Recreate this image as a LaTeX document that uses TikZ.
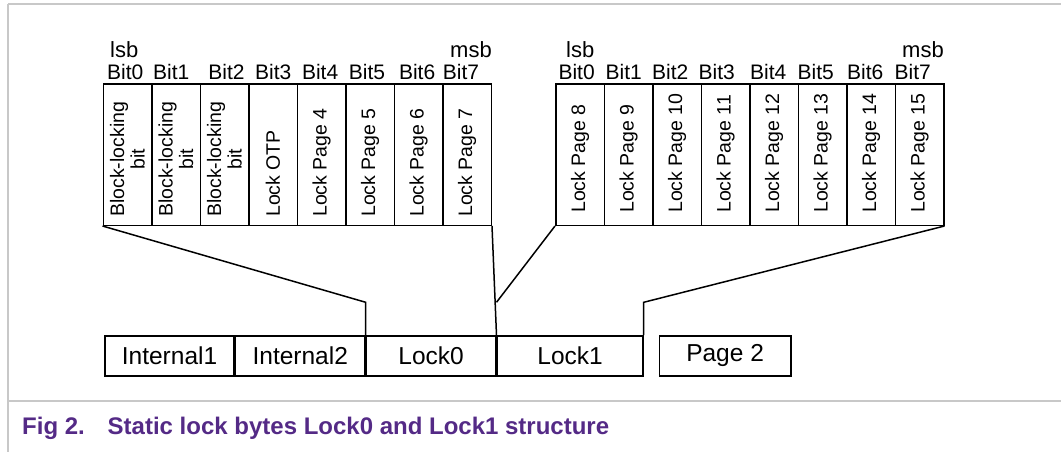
\documentclass[tikz,border=0pt]{standalone}
\usepackage{fontspec}
\setmainfont{Liberation Sans}
\usetikzlibrary{calc}
\definecolor{framegray}{RGB}{200,200,200}
\definecolor{capcol}{RGB}{84,42,134}
\begin{document}
\begin{tikzpicture}[x=1pt,y=1pt,
  cell/.style={draw=black,line width=1.5pt,minimum width=48.5pt,minimum height=141pt,inner sep=0pt,anchor=south west},
  celltext/.style={rotate=90,anchor=west,inner sep=0pt,align=center,font=\fontsize{19.5}{20.5}\selectfont},
  bitlab/.style={anchor=base west,inner sep=0pt,font=\fontsize{21}{23}\selectfont},
  sblab/.style={inner sep=0pt,font=\fontsize{22}{24}\selectfont},
  bytebox/.style={draw=black,line width=1.5pt,minimum height=40pt,inner sep=0pt,anchor=south west,font=\fontsize{24.5}{26}\selectfont},
  conn/.style={line width=1.5pt,line join=miter},
  frame/.style={draw=framegray,line width=1.4pt}]
\useasboundingbox (0,0) rectangle (1061,-452);
% frame
\draw[frame] (8,-4) -- (1061,-4);
\draw[frame] (8,-4) -- (8,-452);
\draw[frame] (8,-401) -- (1061,-401);
% left byte (Lock0)
\foreach \i/\t in {0/{Block-locking\\bit},1/{Block-locking\\bit},2/{Block-locking\\bit},3/{Lock OTP},4/{Lock Page 4},5/{Lock Page 5},6/{Lock Page 6},7/{Lock Page 7}}{
  \node[cell] (L\i) at (102.5+48.5*\i,-226) {};
  \node[celltext] (LT\i) at (L\i.center |- 0,-217) {\t};
}
% right byte (Lock1)
\foreach \i/\t in {0/{Lock Page 8},1/{Lock Page 9},2/{Lock Page 10},3/{Lock Page 11},4/{Lock Page 12},5/{Lock Page 13},6/{Lock Page 14},7/{Lock Page 15}}{
  \node[cell] (R\i) at (555+48.5*\i,-226) {};
  \node[celltext] (RT\i) at (R\i.center |- 0,-213) {\t};
}
% bit labels
\foreach \i/\dx in {0/4.5,1/2,2/8.7,3/7,4/5.3,5/3.7,6/5.3,7/0.7}{
  \node[bitlab] (LB\i) at ($(L\i.north west)+(\dx,4)$) {Bit\i};
}
\foreach \i/\dx in {0/3.3,1/2,2/0,3/-2,4/1,5/0,6/1,7/0}{
  \node[bitlab] (RB\i) at ($(R\i.north west)+(\dx,4)$) {Bit\i};
}
\node[sblab,anchor=base west] (Llsb) at (110,-58) {lsb};
\node[sblab,anchor=base east] (Lmsb) at (492,-58) {msb};
\node[sblab,anchor=base west] (Rlsb) at (566,-58) {lsb};
\node[sblab,anchor=base east] (Rmsb) at (944,-58) {msb};
% bottom row
\node[bytebox,minimum width=129pt] (int1) at (104.3,-376.7) {Internal1};
\node[bytebox,minimum width=129.4pt] (int2) at (int1.south east) {Internal2};
\node[bytebox,minimum width=129.3pt] (lock0) at (int2.south east) {Lock0};
\node[bytebox,minimum width=145.7pt] (lock1) at (lock0.south east) {Lock1};
\node[bytebox,minimum width=131.3pt] (page2) at (658.7,-376.7) {Page 2};
% connectors
\draw[conn] (L0.south west) -- (lock0.north west |- 0,-302.3) -- (lock0.north west);
\draw[conn] (L7.south east) -- (lock0.north east);
\draw[conn] (R0.south west) -- (lock1.north west |- 0,-302.3);
\draw[conn] (R7.south east) -- (lock1.north east |- 0,-302.3) -- (lock1.north east);
% caption
\node[anchor=base west,inner sep=0pt,text=capcol,font=\bfseries\fontsize{24}{26}\selectfont] (cap) at (22,-434) {\makebox[85.5pt][l]{Fig 2.}Static lock bytes Lock0 and Lock1 structure};
\end{tikzpicture}
\end{document}
